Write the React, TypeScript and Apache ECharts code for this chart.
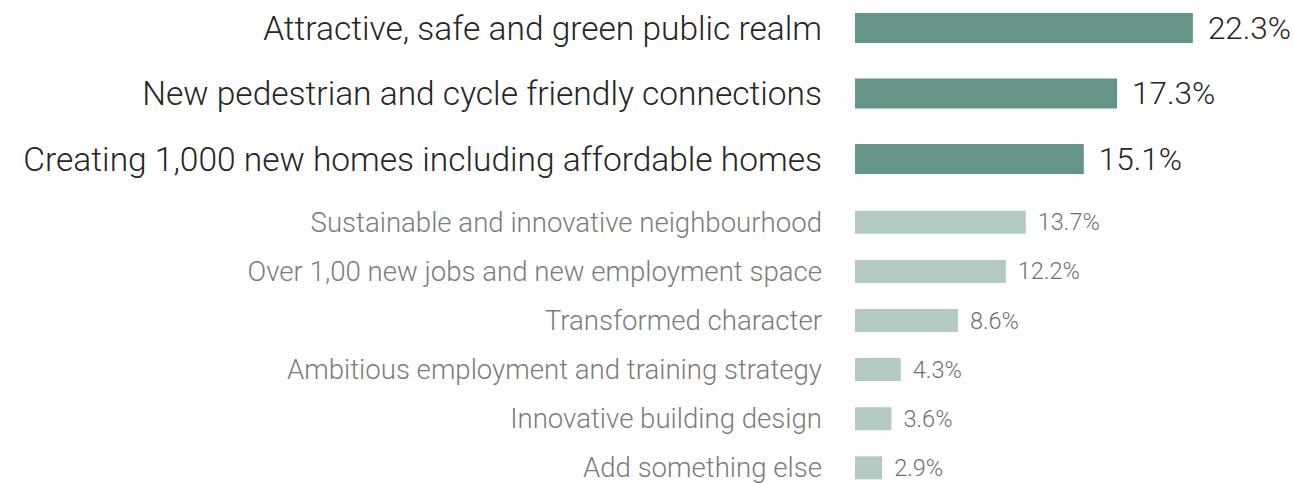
import React, { useEffect, useRef } from "react";
import * as echarts from "echarts";

const topCategories = [
  "Attractive, safe and green public realm",
  "New pedestrian and cycle friendly connections",
  "Creating 1,000 new homes including affordable homes",
];
const topValues = [22.3, 17.3, 15.1];

const bottomCategories = [
  "Sustainable and innovative neighbourhood",
  "Over 1,00 new jobs and new employment space",
  "Transformed character",
  "Ambitious employment and training strategy",
  "Innovative building design",
  "Add something else",
];
const bottomValues = [13.7, 12.2, 8.6, 4.3, 3.6, 2.9];

const FONT = "Roboto";

export default function App() {
  const ref = useRef<HTMLDivElement>(null);
  useEffect(() => {
    if (!ref.current) return;
    const chart = echarts.init(ref.current, undefined, { renderer: "svg" });
    chart.setOption({
      animation: false,
      backgroundColor: "#ffffff",
      textStyle: { fontFamily: FONT, fontWeight: 300 },
      grid: [
        { left: 855, top: 28, width: 400, height: 131 },
        { left: 855, top: 222.3, width: 300, height: 245.5 },
      ],
      xAxis: [
        { gridIndex: 0, type: "value", min: 0, max: 26.4, show: false },
        { gridIndex: 1, type: "value", min: 0.86, max: 23.42, show: false },
      ],
      yAxis: [
        {
          gridIndex: 0,
          type: "category",
          data: topCategories,
          inverse: true,
          boundaryGap: false,
          axisLine: { show: false },
          axisTick: { show: false },
          splitLine: { show: false },
          axisLabel: { margin: 33, fontSize: 33.5, fontWeight: 300, color: "#262626", fontFamily: FONT },
        },
        {
          gridIndex: 1,
          type: "category",
          data: bottomCategories,
          inverse: true,
          boundaryGap: false,
          axisLine: { show: false },
          axisTick: { show: false },
          splitLine: { show: false },
          axisLabel: { margin: 33, fontSize: 27.6, fontWeight: 300, color: "#7c7c7c", fontFamily: FONT },
        },
      ],
      series: [
        {
          type: "bar",
          xAxisIndex: 0,
          yAxisIndex: 0,
          data: topValues,
          barWidth: 30,
          itemStyle: { color: "#649488" },
          label: {
            show: true,
            position: "right",
            distance: 15,
            formatter: "{c}%",
            fontSize: 31.5,
            fontWeight: 300,
            color: "#262626",
            fontFamily: FONT,
          },
        },
        {
          type: "bar",
          xAxisIndex: 1,
          yAxisIndex: 1,
          data: bottomValues,
          barWidth: 23,
          itemStyle: { color: "#b2cac3" },
          label: {
            show: true,
            position: "right",
            distance: 12,
            formatter: "{c}%",
            fontSize: 23.5,
            fontWeight: 300,
            color: "#707070",
            fontFamily: FONT,
          },
        },
      ],
    });
    return () => chart.dispose();
  }, []);
  return (
    <div
      ref={ref}
      style={{ position: "absolute", left: 0, top: 0, width: 1294, height: 483 }}
    />
  );
}
